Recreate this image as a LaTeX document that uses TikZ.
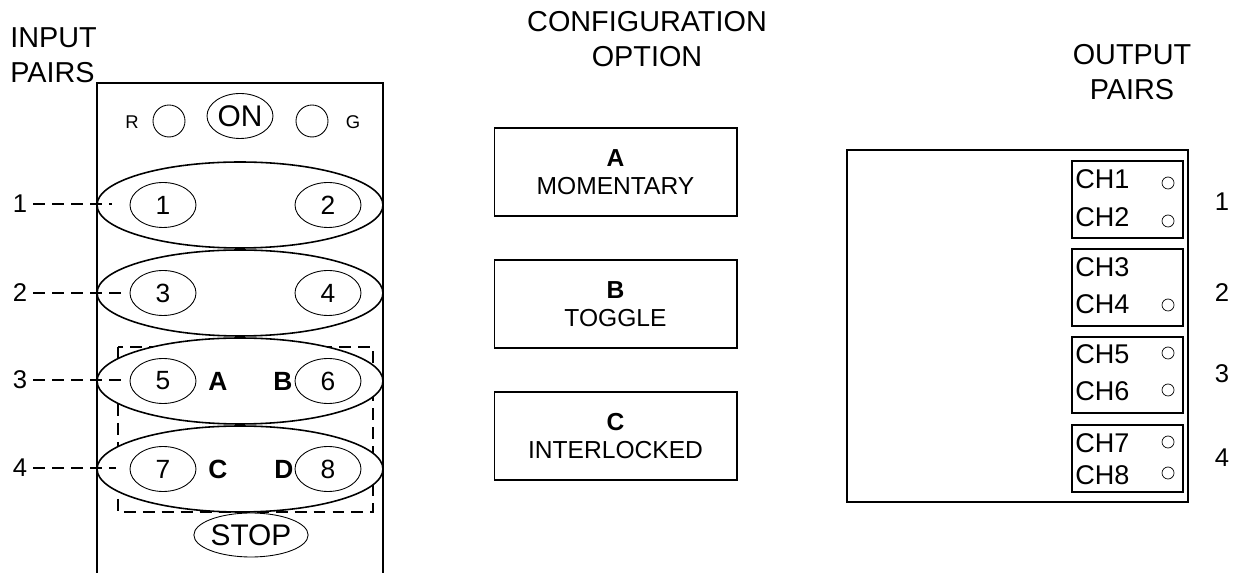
\documentclass[tikz,border=0pt]{standalone}
\usepackage{fontspec}
\setmainfont{Liberation Sans}
\usetikzlibrary{shapes.geometric,positioning}

\tikzset{
  title/.style={font=\fontsize{16.4}{19.8}\selectfont,inner sep=0pt},
  pairring/.style={draw,ellipse,fill=white,line width=0.9pt,minimum width=5.72cm,minimum height=1.72cm,inner sep=0pt},
  keycap/.style={draw,ellipse,line width=0.5pt,minimum width=1.32cm,minimum height=0.9cm,inner sep=0pt,font=\fontsize{15}{17}\selectfont},
  bigcap/.style={draw,ellipse,line width=0.5pt,inner sep=0pt,font=\fontsize{17}{19}\selectfont},
  lamp/.style={draw,circle,line width=0.5pt,minimum size=0.64cm,inner sep=0pt},
  led/.style={draw,circle,line width=0.4pt,minimum size=0.24cm,inner sep=0pt},
  letter/.style={font=\fontsize{15}{17}\selectfont\bfseries,inner sep=0pt},
  num/.style={font=\fontsize{14.6}{17}\selectfont},
  modebox/.style={draw,line width=0.6pt,minimum width=4.86cm,minimum height=1.76cm,align=center,font=\fontsize{14}{16.2}\selectfont},
  chbox/.style={draw,line width=0.6pt,minimum width=2.22cm,inner sep=0pt},
  chtext/.style={anchor=west,inner sep=0pt,font=\fontsize{15.4}{17}\selectfont},
  tick/.style={dash pattern=on 6.8pt off 4pt,line width=0.6pt}
}

\begin{document}
\begin{tikzpicture}[x=0.02cm,y=-0.02cm]
  \useasboundingbox (0,0) rectangle (1244,573);

  % input panel
  \node[title,anchor=west,align=left] (intitle) at (10,55) {INPUT\\PAIRS};
  \draw[line width=0.6pt] (97,573) -- (97,83) -- (383,83) -- (383,573);
  \node[font=\fontsize{10.5}{12}\selectfont] (rtxt) at (132,122) {R};
  \node[lamp] (rlamp) at (169,121) {};
  \node[bigcap,minimum width=1.32cm,minimum height=0.9cm] (on) at (240,116) {ON};
  \node[lamp] (glamp) at (312,121) {};
  \node[font=\fontsize{10.5}{12}\selectfont] (gtxt) at (353,122) {G};

  \draw[tick] (118,347) rectangle (373,512);

  \node[pairring] (pr1) at (240,205) {};
  \node[pairring] (pr2) at (240,293) {};
  \node[pairring] (pr3) at (240,381) {};
  \node[pairring] (pr4) at (240,469) {};

  \node[keycap] (k1) at (163,205) {1};
  \node[keycap] (k2) at (328,205) {2};
  \node[keycap] (k3) at (163,293) {3};
  \node[keycap] (k4) at (328,293) {4};
  \node[keycap] (k5) at (163,381) {5};
  \node[keycap] (k6) at (328,381) {6};
  \node[keycap] (k7) at (163,469) {7};
  \node[keycap] (k8) at (328,469) {8};
  \node[letter] (la) at (218,381) {A};
  \node[letter] (lb) at (283,381) {B};
  \node[letter] (lc) at (218,469) {C};
  \node[letter] (ld) at (284,469) {D};

  \node[bigcap,minimum width=2.22cm,minimum height=0.88cm] (stop) at (251,535) {STOP};

  \node[num] (in1) at (20,204) {1};
  \node[num] (in2) at (20,293) {2};
  \node[num] (in3) at (20,380) {3};
  \node[num] (in4) at (20,468) {4};
  \coordinate (t1) at (112,204);
  \coordinate (t2) at (122,293);
  \coordinate (t3) at (122,380);
  \coordinate (t4) at (116,468);
  \draw[tick] (in1) -- (t1);
  \draw[tick] (in2) -- (t2);
  \draw[tick] (in3) -- (t3);
  \draw[tick] (in4) -- (t4);

  % configuration options
  \node[title,align=center] (cfgtitle) at (647,39) {CONFIGURATION\\OPTION};
  \node[modebox] (mode a) at (615.5,172) {\textbf{A}\\MOMENTARY};
  \node[modebox] (mode b) at (615.5,304) {\textbf{B}\\TOGGLE};
  \node[modebox] (mode c) at (615.5,436) {\textbf{C}\\INTERLOCKED};

  % output panel
  \node[title,align=center] (outtitle) at (1132,72) {OUTPUT\\PAIRS};
  \draw[line width=0.6pt] (847,150) rectangle (1188,502);
  \node[chbox,minimum height=1.54cm] (ch12) at (1127.5,199.5) {};
  \node[chbox,minimum height=1.54cm] (ch34) at (1127.5,287.5) {};
  \node[chbox,minimum height=1.52cm] (ch56) at (1127.5,375) {};
  \node[chbox,minimum height=1.34cm] (ch78) at (1127.5,458.5) {};

  \node[chtext] (c1) at (1075,179) {CH1};
  \node[chtext] (c2) at (1075,217) {CH2};
  \node[chtext] (c3) at (1075,267) {CH3};
  \node[chtext] (c4) at (1075,304) {CH4};
  \node[chtext] (c5) at (1075,354) {CH5};
  \node[chtext] (c6) at (1075,391) {CH6};
  \node[chtext] (c7) at (1075,443) {CH7};
  \node[chtext] (c8) at (1075,475) {CH8};

  \node[led] (d1) at (1168,183) {};
  \node[led] (d2) at (1168,221) {};
  \node[led] (d4) at (1168,305) {};
  \node[led] (d5) at (1168,353) {};
  \node[led] (d6) at (1168,390) {};
  \node[led] (d7) at (1168,442) {};
  \node[led] (d8) at (1168,473) {};

  \node[num] (out1) at (1222,202) {1};
  \node[num] (out2) at (1222,293) {2};
  \node[num] (out3) at (1222,374) {3};
  \node[num] (out4) at (1222,458) {4};
\end{tikzpicture}
\end{document}
